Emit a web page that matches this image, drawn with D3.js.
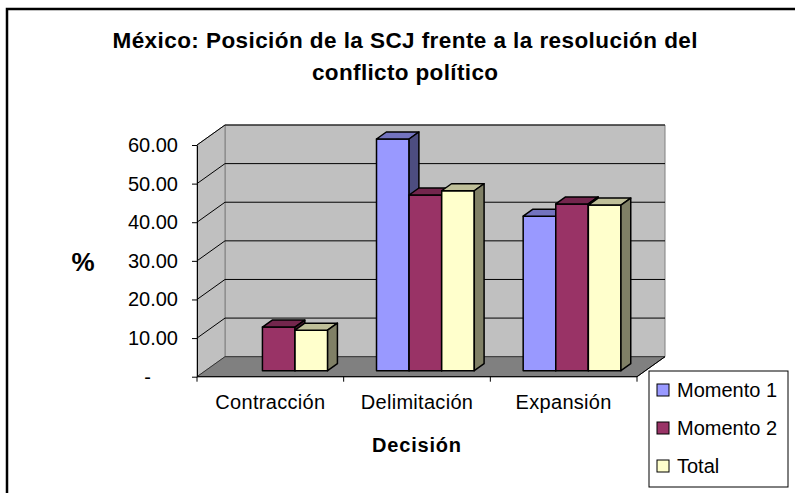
<!DOCTYPE html>
<html lang="es">
<head>
<meta charset="UTF-8">
<title>México: Posición de la SCJ</title>
<script src="https://d3js.org/d3.v7.min.js"></script>
<style>
    body { margin: 0; background: white; font-family: Arial, "Liberation Sans", sans-serif; }
    svg { display: block; }
</style>
</head>
<body>
<script>
    // Data
    const categories = ["Contracción", "Delimitación", "Expansión"];
    const seriesNames = ["Momento 1", "Momento 2", "Total"];
    const momento1 = [0, 60.0, 40.0];
    const momento2 = [11.3, 45.5, 43.2];
    const total = [10.5, 46.6, 42.9];
    const yTicks = [0, 10, 20, 30, 40, 50, 60];
    const colors = ["#9999FF", "#993366", "#FFFFCC"];

    const W = 795, H = 493;
    // front plane of the plot
    const x0 = 197, x1 = 637, yBase = 376.7, plotH = 231.7;
    // depth offset of the back wall
    const depth = {dx: 28, dy: -20};
    const barDepth = [0.3, 0.65];

    const svg = d3.select("body").append("svg")
        .attr("width", W).attr("height", H);

    const xScale = d3.scaleBand().domain(categories).range([0, x1 - x0]);
    const sScale = d3.scaleBand().domain(seriesNames)
        .range([0, xScale.bandwidth()]).paddingInner(0).paddingOuter(0.75);
    const yScale = d3.scaleLinear().domain([0, 60]).range([0, plotH]);

    // 3D point -> screen
    const P = (x, v, f) => [x0 + x + depth.dx * f, yBase - yScale(v) + depth.dy * f];
    const poly = pts => pts.map(p => p.join(",")).join(" ");

    // outer border
    svg.append("rect").attr("x", 7).attr("y", 9).attr("width", 800).attr("height", 500)
        .attr("fill", "none").attr("stroke", "#000").attr("stroke-width", 2.5);

    // back wall
    svg.append("polygon")
        .attr("points", poly([P(0, 0, 1), P(0, 60, 1), P(x1 - x0, 60, 1), P(x1 - x0, 0, 1)]))
        .attr("fill", "#C0C0C0").attr("stroke", "#808080");
    // side wall
    svg.append("polygon")
        .attr("points", poly([P(0, 0, 0), P(0, 60, 0), P(0, 60, 1), P(0, 0, 1)]))
        .attr("fill", "#C0C0C0").attr("stroke", "#808080");

    // gridlines
    const grid = svg.append("g").attr("stroke", "#000").attr("stroke-width", 1);
    yTicks.filter(t => t > 0).forEach(t => {
        grid.append("polyline")
            .attr("points", poly([P(0, t, 0), P(0, t, 1), P(x1 - x0, t, 1)]))
            .attr("fill", "none");
    });

    // floor
    svg.append("polygon")
        .attr("points", poly([P(0, 0, 0), P(x1 - x0, 0, 0), P(x1 - x0, 0, 1), P(0, 0, 1)]))
        .attr("fill", "#808080").attr("stroke", "#333").attr("stroke-width", 1);

    // bars
    const seriesData = [momento1, momento2, total];
    const shade = (c, k) => { const r = d3.rgb(c); return d3.rgb(r.r * k, r.g * k, r.b * k).toString(); };
    const bars = svg.append("g").attr("stroke", "#000").attr("stroke-width", 1.5).attr("stroke-linejoin", "round");
    categories.forEach((cat, ci) => {
        seriesNames.forEach((s, si) => {
            const v = seriesData[si][ci];
            if (!v) return;
            const xa = xScale(cat) + sScale(s), xb = xa + sScale.bandwidth();
            const [f0, f1] = barDepth;
            const g = bars.append("g");
            // front
            g.append("polygon").attr("points", poly([P(xa, 0, f0), P(xa, v, f0), P(xb, v, f0), P(xb, 0, f0)]))
                .attr("fill", colors[si]);
            // top
            g.append("polygon").attr("points", poly([P(xa, v, f0), P(xa, v, f1), P(xb, v, f1), P(xb, v, f0)]))
                .attr("fill", shade(colors[si], 0.75));
            // side
            g.append("polygon").attr("points", poly([P(xb, 0, f0), P(xb, v, f0), P(xb, v, f1), P(xb, 0, f1)]))
                .attr("fill", shade(colors[si], 0.5));
        });
    });

    // y axis on the front plane
    const yAxisScale = d3.scaleLinear().domain([0, 60]).range([yBase, yBase - plotH]);
    const yAxis = svg.append("g")
        .attr("transform", `translate(${x0},0)`)
        .call(d3.axisLeft(yAxisScale).tickValues(yTicks).tickSize(5).tickSizeOuter(0).tickPadding(14)
            .tickFormat(d => d === 0 ? "-" : d.toFixed(2)));
    yAxis.select(".domain").attr("stroke", "#000");
    yAxis.selectAll("text").style("font-size", "20px").style("font-family", "Arial, 'Liberation Sans', sans-serif")
        .attr("fill", "#000");
    yAxis.selectAll(".tick").filter(d => d === 0).select("text").attr("dx", -27);

    // x axis line and ticks
    const xAxis = svg.append("g").attr("stroke", "#000");
    xAxis.append("line").attr("x1", x0).attr("x2", x1).attr("y1", yBase).attr("y2", yBase);
    xAxis.append("line").attr("x1", x1).attr("y1", yBase).attr("x2", x1 + depth.dx).attr("y2", yBase + depth.dy);
    categories.concat([null]).forEach((c, i) => {
        const x = x0 + (c === null ? x1 - x0 : xScale(c));
        xAxis.append("line").attr("x1", x).attr("x2", x).attr("y1", yBase).attr("y2", yBase + 5);
    });

    // category labels
    svg.append("g").selectAll("text").data(categories).join("text")
        .attr("x", d => x0 + xScale(d) + xScale.bandwidth() / 2)
        .attr("y", 409)
        .attr("text-anchor", "middle")
        .style("font-size", "20px")
        .style("letter-spacing", "0.3px")
        .text(d => d);

    // axis titles
    svg.append("text").attr("x", 417).attr("y", 452).attr("text-anchor", "middle")
        .style("font-size", "20px").style("font-weight", "bold").style("letter-spacing", "0.8px").text("Decisión");
    svg.append("text").attr("x", 83).attr("y", 271).attr("text-anchor", "middle")
        .style("font-size", "26px").style("font-weight", "bold").text("%");

    // title
    const title = svg.append("text").attr("text-anchor", "middle")
        .style("font-size", "22.5px").style("font-weight", "bold");
    title.append("tspan").attr("x", 405).attr("y", 48)
        .attr("textLength", 585).attr("lengthAdjust", "spacing")
        .text("México: Posición de la SCJ frente a la resolución del");
    title.append("tspan").attr("x", 405).attr("y", 80)
        .attr("textLength", 186).attr("lengthAdjust", "spacing")
        .text("conflicto político");

    // legend
    const legend = svg.append("g").attr("transform", "translate(649,371)");
    legend.append("rect").attr("width", 139).attr("height", 116)
        .attr("fill", "#fff").attr("stroke", "#000");
    seriesNames.forEach((s, i) => {
        const cy = 19 + i * 38;
        legend.append("rect").attr("x", 8).attr("y", cy - 6).attr("width", 12).attr("height", 12)
            .attr("fill", colors[i]).attr("stroke", "#000");
        legend.append("text").attr("x", 28).attr("y", cy + 7)
            .style("font-size", "20px").text(s);
    });
</script>
</body>
</html>
